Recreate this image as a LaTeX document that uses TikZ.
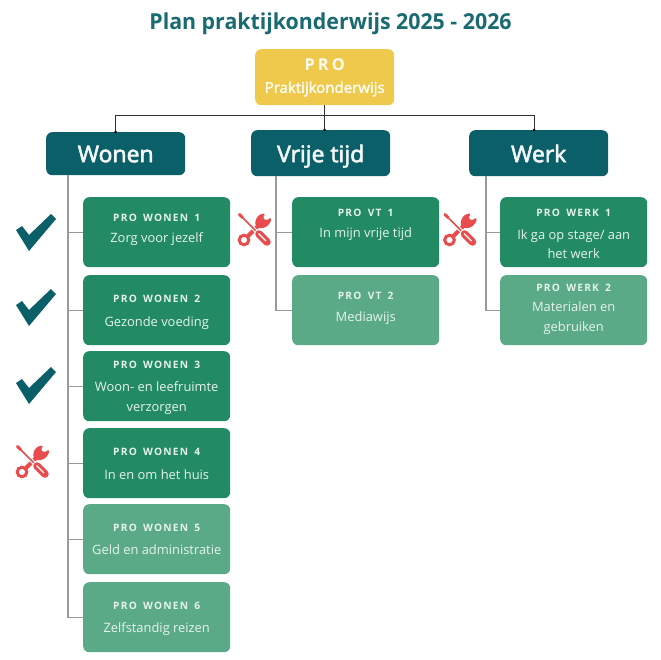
\documentclass[tikz,border=0pt]{standalone}
\usepackage{fontspec}
\setmainfont{Open Sans}
\definecolor{teal}{HTML}{0B5F68}
\definecolor{titlec}{HTML}{1A6A72}
\definecolor{gr}{HTML}{228B64}
\definecolor{lgr}{HTML}{5AAA87}
\definecolor{yel}{HTML}{EFC94C}
\definecolor{redc}{HTML}{E84C4C}
\definecolor{linec}{HTML}{9A9A9A}
\definecolor{soft}{HTML}{E6F3EC}
\newfontfamily\medfont[FakeBold=2.5]{Open Sans}
\newfontfamily\titlefont[FakeStretch=0.97]{Open Sans}
\newfontfamily\labfont[LetterSpace=12,WordSpace=1.6]{Open Sans}
\newfontfamily\profont[LetterSpace=19]{Open Sans}
\tikzset{
 x=1pt,y=-1pt,
 box/.style={rounded corners=6pt,inner sep=0pt,align=center,anchor=north west},
 head/.style={box,fill=teal,minimum width=139pt,text=white!95!teal,font=\medfont\fontsize{23}{28}\selectfont,text depth=0pt},
 item/.style={box,fill=gr,minimum width=147pt,minimum height=70pt},
 itemb/.style={item,fill=lgr},
 lab/.style={inner sep=0pt,align=center,text=soft,font=\labfont\fontsize{10.2}{12}\selectfont\bfseries},
 txt/.style={inner sep=0pt,align=center,text=soft,yshift=-1.2pt,font=\fontsize{12.9}{19.3}\selectfont},
 trunk/.style={linec,line width=1.2pt},
 top/.style={black!80,line width=0.9pt},
 tick/.pic={\fill[teal] (0,16)--(6,12)--(13,21)--(35,0)--(40,5)--(13,37)--cycle;},
 tools/.pic={
  % wrench
  \draw[redc,line width=4pt] (9,24)--(20,13);
  \fill[redc,rounded corners=1pt] (17,11)--(18,6)--(21,2)--(26,0.3)--(27,1.5)--(25,4.5)--(27,7)--(30,6.7)--(32.2,4.8)--(33.4,6)--(32,10)--(28,14)--(23,15.5)--(20,14.5)--cycle;
  \draw[redc,line width=3pt,fill=white] (6,27) circle (4.8pt);
  % screwdriver
  \draw[white,line width=3.6pt] (9,9)--(20,20);
  \draw[redc,line width=1.6pt,line cap=round] (1.5,1.5)--(20,20);
  \draw[redc,line width=3pt,line cap=round] (1.5,1.5)--(4.5,4.5);
  \draw[white,line width=9.5pt,line cap=round] (21,21)--(29,29);
  \draw[redc,line width=7.5pt,line cap=round] (21,21)--(29,29);
  \draw[white,line width=1.1pt] (20.5,20.5)--(28,28);
 }
}
% name, style, x, y, title, title offset, text offset, text
\newcommand{\itm}[8]{%
  \node[#2] (#1) at (#3,#4) {};
  \node[lab] (#1t) at ([yshift=-#6pt]#1.north) {#5};
  \node[txt] (#1x) at ([yshift=-#7pt]#1.north) {#8};
}
\begin{document}
\begin{tikzpicture}
\useasboundingbox (0,0) rectangle (660,660);
\node[text=titlec,font=\titlefont\fontsize{22}{28}\selectfont\bfseries] (title) at (330.5,23.5) {Plan praktijkonderwijs 2025 - 2026};
\node[box,fill=yel,minimum width=139pt,minimum height=56pt] (pro) at (255,49) {};
\node[lab,text=white!92!yel,font=\profont\fontsize{16.3}{18}\selectfont\bfseries] (prot) at ([yshift=-16pt]pro.north) {PRO};
\node[lab,text=white!92!yel,font=\medfont\fontsize{15}{18}\selectfont] (prox) at ([yshift=-40pt]pro.north) {Praktijkonderwijs};
\node[head,minimum height=43pt,text height=17pt] (won) at (46,132) {Wonen};
\node[head,minimum height=46pt,text height=18pt] (vt) at (251,130) {Vrije tijd};
\node[head,minimum height=46pt,text height=18pt] (wrk) at (469,130) {Werk};
\itm{w1}{item}{83}{197}{PRO WONEN 1}{21.3}{40.3}{\strut Zorg voor jezelf}
\itm{w2}{item}{83}{275}{PRO WONEN 2}{23.7}{46}{\strut Gezonde voeding}
\itm{w3}{item}{83}{351}{PRO WONEN 3}{14}{45.3}{\strut Woon- en leefruimte\\\strut verzorgen}
\itm{w4}{item}{83}{428}{PRO WONEN 4}{24.3}{46}{\strut In en om het huis}
\itm{w5}{itemb}{83}{504}{PRO WONEN 5}{24.3}{45.3}{\strut Geld en administratie}
\itm{w6}{itemb}{83}{582}{PRO WONEN 6}{24}{45.7}{\strut Zelfstandig reizen}
\itm{v1}{item}{292}{197}{PRO VT 1}{15.7}{35.7}{\strut In mijn vrije tijd}
\itm{v2}{itemb}{292}{275}{PRO VT 2}{20.7}{41.7}{\strut Mediawijs}
\itm{k1}{item}{500}{197}{PRO WERK 1}{15.7}{46.8}{\strut Ik ga op stage/ aan\\\strut het werk}
\itm{k2}{itemb}{500}{275}{PRO WERK 2}{12.7}{41.5}{\strut Materialen en\\\strut gebruiken}
% top connectors
\coordinate (bus) at (0,115);
\coordinate (vtin) at (pro.south |- vt.north);
\coordinate (wrkin) at ([xshift=-4.5pt]wrk.north);
\draw[top] (pro.south) -- (vtin);
\draw[top] (pro.south |- bus) -| (won.north);
\draw[top] (pro.south |- bus) -| (wrkin);
\fill (won.north) circle (1.5pt) (vtin) circle (1.5pt) (wrkin) circle (1.5pt);
% trunks
\coordinate (tw) at (68,175);
\coordinate (tv) at (276,176);
\coordinate (tk) at (486,176);
\draw[trunk] (tw) |- (w6.west);
\foreach \n in {w1,w2,w3,w4,w5} \draw[trunk] (tw) |- (\n.west);
\draw[trunk] (tv) |- (v2.west);
\draw[trunk] (tv) |- (v1.west);
\draw[trunk] (tk) |- (k2.west);
\draw[trunk] (tk) |- (k1.west);
% icons
\pic at (16,214) {tick};
\pic at (16,289) {tick};
\pic at (16,367) {tick};
\pic at (16,445) {tools};
\pic at (238,213) {tools};
\pic at (443.5,213) {tools};
\end{tikzpicture}
\end{document}
